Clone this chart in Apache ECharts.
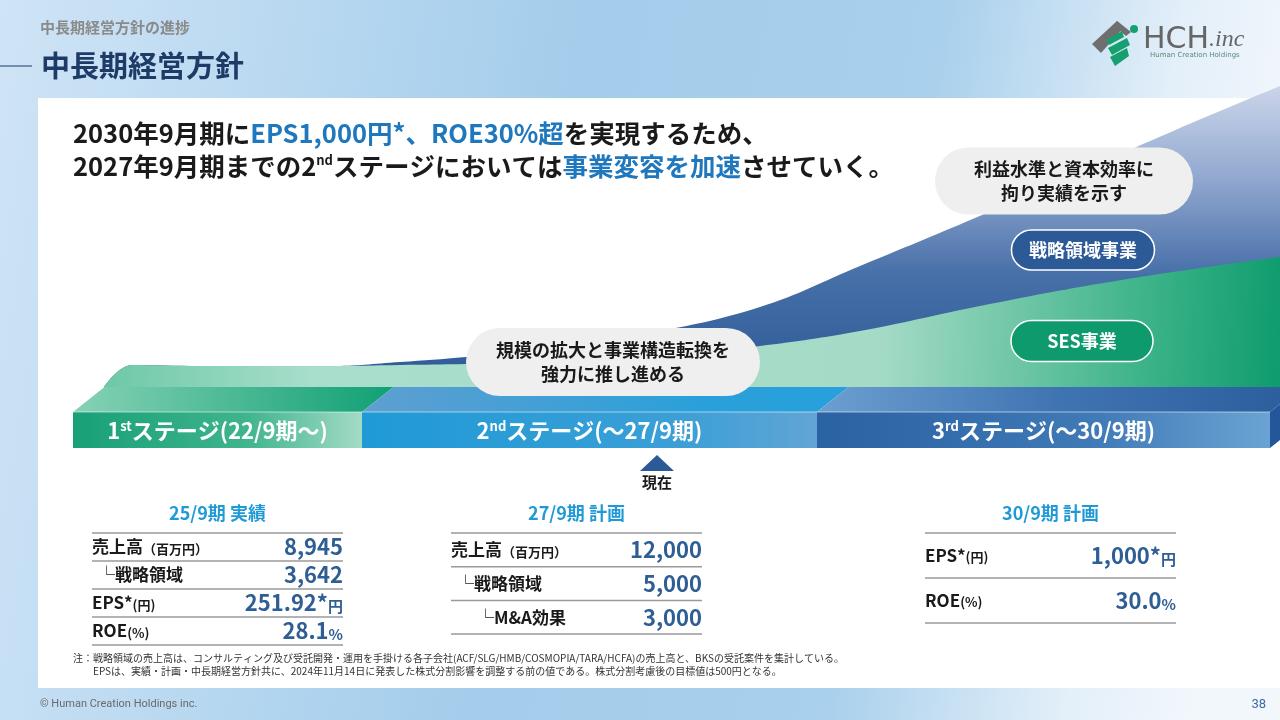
<!DOCTYPE html>
<html lang="ja">
  <head>
    <meta charset="UTF-8" />
    <title>中長期経営方針</title>
    <script src="https://cdn.jsdelivr.net/npm/echarts@6/dist/echarts.min.js"></script>
    <style>
      html, body { margin: 0; padding: 0; background: #fff; }
      #main { width: 1280px; height: 720px; }
    </style>
  </head>
  <body>
    <div id="main"></div>
    <script type="text/javascript">
      var FONT = "'Noto Sans CJK JP', 'Noto Sans', sans-serif";

      // timeline position (x) and growth level of each layer (schematic units)
      var curveX = [10.4, 13.2, 20, 33, 40, 46.6, 55, 65, 76, 86, 97.5, 108, 118, 128];
      var sesLevel = [0, 2.2, 2.1, 2.1, 2.2, 2.3, 2.5, 3.0, 4.1, 5.6, 8.0, 10.0, 11.6, 13.0];
      var strategicLevel = [0, 0, 0, 0, 0.3, 0.7, 1.4, 2.4, 3.9, 6.5, 8.9, 11.5, 14.3, 17.1];

      // stages on the timeline
      var stageStart = [7.3, 36.2, 81.7];
      var stageEnd = [36.2, 81.7, 127.0];
      var stageOrd = ["1", "2", "3"];
      var stageSup = ["st", "nd", "rd"];
      var stageText = ["ステージ(22/9期～)", "ステージ(～27/9期)", "ステージ(～30/9期)"];
      var currentPos = 65.7;

      // tables
      var t1Title = "25/9期 実績";
      var t1Labels = ["売上高", "└戦略領域", "EPS*", "ROE"];
      var t1Notes = ["（百万円）", "", "(円)", "(%)"];
      var t1Values = ["8,945", "3,642", "251.92*", "28.1"];
      var t1Units = ["", "", "円", "%"];

      var t2Title = "27/9期 計画";
      var t2Labels = ["売上高", "└戦略領域", "└M&A効果"];
      var t2Notes = ["（百万円）", "", ""];
      var t2Values = ["12,000", "5,000", "3,000"];
      var t2Units = ["", "", ""];

      var t3Title = "30/9期 計画";
      var t3Labels = ["EPS*", "ROE"];
      var t3Notes = ["(円)", "(%)"];
      var t3Values = ["1,000*", "30.0"];
      var t3Units = ["円", "%"];

      var chartDom = document.getElementById("main");
      var myChart = echarts.init(chartDom);

      function zip(xs, ys) {
        return xs.map(function (x, i) {
          return [x, ys[i]];
        });
      }

      // the strategic layer sits on top of the SES layer
      var totalLevel = sesLevel.map(function (v, i) {
        return +(v + strategicLevel[i]).toFixed(2);
      });

      function lg(x, y, x2, y2, stops) {
        return new echarts.graphic.LinearGradient(
          x, y, x2, y2,
          stops.map(function (c) {
            return { offset: c[0], color: c[1] };
          })
        );
      }

      var stageFront = [
        lg(0, 0, 1, 0, [[0, "#18a077"], [0.6, "#3fb48d"], [1, "#a3dbc6"]]),
        lg(0, 0, 1, 0, [[0, "#1f9ad6"], [0.7, "#3b9fd6"], [1, "#62a5d6"]]),
        lg(0, 0, 1, 0, [[0, "#2b62a2"], [0.6, "#3f79b6"], [1, "#6aa3d3"]]),
      ];
      var stageTop = [
        lg(0, 0, 1, 0, [[0, "#86d2b6"], [1, "#11a074"]]),
        lg(0, 0, 1, 0, [[0, "#5e9fd1"], [0.7, "#2aa0da"], [1, "#27a0db"]]),
        lg(0, 0, 1, 0, [[0, "#6c9fd0"], [0.5, "#3f74b2"], [1, "#2b5d9c"]]),
      ];

      // one table: title, rows with separator lines
      function makeTable(x0, x1, lineTop, rowH, title, labels, notes, values, units, indents) {
        var els = [];
        els.push({
          type: "text", z: 100,
          style: {
            x: (x0 + x1) / 2, y: lineTop - 20, text: title, align: "center",
            verticalAlign: "middle", font: "bold 18px " + FONT, fill: "#1f9ad6",
          },
        });
        for (var i = 0; i <= labels.length; i++) {
          els.push({
            type: "line", z: 100,
            shape: { x1: x0, y1: lineTop + i * rowH, x2: x1, y2: lineTop + i * rowH },
            style: { stroke: "#9a9a9a", lineWidth: 1.5 },
          });
        }
        labels.forEach(function (lab, i) {
          var cy = lineTop + (i + 0.5) * rowH;
          els.push({
            type: "text", z: 100,
            style: {
              x: x0 + indents[i], y: cy, text: "{l|" + lab + "}" + (notes[i] ? "{n|" + notes[i] + "}" : ""),
              verticalAlign: "middle",
              rich: {
                l: { font: "bold 17px " + FONT, fill: "#1a1a1a", verticalAlign: "bottom" },
                n: { font: "bold 13px " + FONT, fill: "#1a1a1a", verticalAlign: "bottom" },
              },
            },
          });
          els.push({
            type: "text", z: 100,
            style: {
              x: x1, y: cy, text: "{v|" + values[i] + "}" + (units[i] ? "{u|" + units[i] + "}" : ""),
              align: "right", verticalAlign: "middle",
              rich: {
                v: { font: "bold 22px " + FONT, fill: "#2e5e94", verticalAlign: "bottom" },
                u: { font: "bold 15px " + FONT, fill: "#2e5e94", verticalAlign: "bottom" },
              },
            },
          });
        });
        return els;
      }

      function pill(cx, cy, w, h, text, fill, stroke, color) {
        return {
          type: "group", z: 100,
          children: [
            {
              type: "rect", z: 100,
              shape: { x: cx - w / 2, y: cy - h / 2, width: w, height: h, r: h / 2 },
              style: { fill: fill, stroke: stroke, lineWidth: stroke ? 1.5 : 0 },
            },
            {
              type: "text", z: 101,
              style: {
                x: cx, y: cy, text: text, align: "center", verticalAlign: "middle",
                font: "bold 18px " + FONT, fill: color, lineHeight: 24,
              },
            },
          ],
        };
      }

      var graphics = [
        // slide background
        {
          type: "rect", z: -10,
          shape: { x: 0, y: 0, width: 1280, height: 720 },
          style: {
            fill: lg(0, 0, 1, 0.3, [[0, "#cfe4f6"], [0.45, "#a3cdeb"], [0.72, "#a9d0ec"], [0.9, "#e3eff9"], [1, "#f2f7fc"]]),
          },
        },
        {
          type: "rect", z: -9,
          shape: { x: 38, y: 98, width: 1242, height: 590 },
          style: { fill: "#ffffff" },
        },
        // header
        {
          type: "text", z: 100,
          style: { x: 40, y: 27, text: "中長期経営方針の進捗", verticalAlign: "middle", font: "bold 15px " + FONT, fill: "#8a8a8a" },
        },
        {
          type: "line", z: 100,
          shape: { x1: 0, y1: 66, x2: 32, y2: 66 },
          style: { stroke: "#1d3b66", lineWidth: 1 },
        },
        {
          type: "text", z: 100,
          style: { x: 41, y: 66, text: "中長期経営方針", verticalAlign: "middle", font: "bold 29px " + FONT, fill: "#1d3b66" },
        },
        // logo
        {
          type: "polygon", z: 100,
          shape: { points: [[1092, 44], [1117, 21], [1124, 27], [1101, 53]] },
          style: { fill: "#6f6f6f" },
        },
        {
          type: "polygon", z: 100,
          shape: { points: [[1117, 21], [1131, 32], [1126, 36], [1114, 26]] },
          style: { fill: "#6f6f6f" },
        },
        {
          type: "polygon", z: 100,
          shape: { points: [[1106, 40], [1122, 31], [1124, 37], [1109, 45]] },
          style: { fill: "#16a06f" },
        },
        {
          type: "polygon", z: 100,
          shape: { points: [[1108, 48], [1127, 38], [1130, 45], [1112, 55]] },
          style: { fill: "#16a06f" },
        },
        {
          type: "polygon", z: 100,
          shape: { points: [[1110, 57], [1127, 48], [1129, 56], [1115, 66]] },
          style: { fill: "#16a06f" },
        },
        {
          type: "circle", z: 100,
          shape: { cx: 1134, cy: 29, r: 4 },
          style: { fill: "#16a06f" },
        },
        {
          type: "text", z: 100,
          style: {
            x: 1143, y: 40, text: "{h|HCH}{i|.inc}", verticalAlign: "middle",
            rich: {
              h: { font: "30px 'DejaVu Sans', sans-serif", fill: "#666666" },
              i: { font: "italic 24px 'Liberation Serif', serif", fill: "#666666" },
            },
          },
        },
        {
          type: "text", z: 100,
          style: { x: 1150, y: 55, text: "Human Creation Holdings", verticalAlign: "middle", font: "7px 'DejaVu Sans', sans-serif", fill: "#5a8a78" },
        },
        // headline
        {
          type: "text", z: 100,
          style: {
            x: 73, y: 133, verticalAlign: "middle",
            text: "2030年9月期に{b|EPS1,000円*、ROE30%超}を実現するため、",
            font: "bold 25.5px " + FONT, fill: "#1a1a1a",
            rich: { b: { font: "bold 25.5px " + FONT, fill: "#1f78be" } },
          },
        },
        {
          type: "text", z: 100,
          style: {
            x: 73, y: 166, verticalAlign: "middle",
            text: "2027年9月期までの2{s|nd}ステージにおいては{b|事業変容を加速}させていく。",
            font: "bold 25.5px " + FONT, fill: "#1a1a1a",
            rich: {
              b: { font: "bold 25.5px " + FONT, fill: "#1f78be" },
              s: { font: "bold 13px " + FONT, fill: "#1a1a1a", verticalAlign: "top" },
            },
          },
        },
        // bubbles and series pills
        pill(1064, 181, 258, 67, "利益水準と資本効率に\n拘り実績を示す", "#efefef", null, "#1a1a1a"),
        pill(613, 362, 294, 68, "規模の拡大と事業構造転換を\n強力に推し進める", "#efefef", null, "#1a1a1a"),
        pill(1083, 250, 143, 40, "戦略領域事業", "#2c5a97", "#ffffff", "#ffffff"),
        pill(1082, 341, 142, 41, "SES事業", "#0f9a6e", "#ffffff", "#ffffff"),
        // footnote and footer
        {
          type: "text", z: 100,
          style: {
            x: 73, y: 658, verticalAlign: "middle", font: "10px " + FONT, fill: "#333333",
            text: "注：戦略領域の売上高は、コンサルティング及び受託開発・運用を手掛ける各子会社(ACF/SLG/HMB/COSMOPIA/TARA/HCFA)の売上高と、BKSの受託案件を集計している。",
          },
        },
        {
          type: "text", z: 100,
          style: {
            x: 93, y: 671, verticalAlign: "middle", font: "10px " + FONT, fill: "#333333",
            text: "EPSは、実績・計画・中長期経営方針共に、2024年11月14日に発表した株式分割影響を調整する前の値である。株式分割考慮後の目標値は500円となる。",
          },
        },
        {
          type: "text", z: 100,
          style: { x: 40, y: 704, verticalAlign: "middle", text: "© Human Creation Holdings inc.", font: "11px 'Roboto', sans-serif", fill: "#6a6a6a" },
        },
        {
          type: "text", z: 100,
          style: { x: 1266, y: 705, align: "right", verticalAlign: "middle", text: "38", font: "13px 'Roboto', sans-serif", fill: "#3a6ea5" },
        },
      ];

      graphics = graphics
        .concat(makeTable(92, 343, 533, 28, t1Title, t1Labels, t1Notes, t1Values, t1Units, [0, 6, 0, 0]))
        .concat(makeTable(451, 702, 533, 33.7, t2Title, t2Labels, t2Notes, t2Values, t2Units, [0, 6, 26]))
        .concat(makeTable(925, 1176, 533, 45, t3Title, t3Labels, t3Notes, t3Values, t3Units, [0, 0]));

      var DEPTH_X = 3.15;
      var FRONT_TOP = -2.5;
      var FRONT_BOTTOM = -6.1;

      function renderStage(params, api) {
        var i = params.dataIndex;
        var x0 = api.value(0);
        var x1 = api.value(1);
        var a = api.coord([x0, FRONT_TOP]);
        var b = api.coord([x1, FRONT_BOTTOM]);
        var backL = api.coord([x0 + DEPTH_X, 0]);
        var backR = api.coord([x1 + DEPTH_X, 0]);
        var frontR = api.coord([x1, FRONT_TOP]);
        var children = [
          {
            type: "polygon",
            shape: { points: [a, frontR, backR, backL] },
            style: { fill: stageTop[i] },
          },
          {
            type: "rect",
            shape: { x: a[0], y: a[1], width: b[0] - a[0], height: b[1] - a[1] },
            style: { fill: stageFront[i] },
          },
          {
            type: "line",
            shape: { x1: a[0], y1: a[1], x2: b[0], y2: a[1] },
            style: { stroke: "rgba(255,255,255,0.55)", lineWidth: 1 },
          },
          {
            type: "text",
            style: {
              x: (a[0] + b[0]) / 2, y: (a[1] + b[1]) / 2 + 1,
              text: "{o|" + stageOrd[i] + "}{s|" + stageSup[i] + "}{t|" + stageText[i] + "}",
              align: "center", verticalAlign: "middle",
              rich: {
                o: { font: "bold 22px " + FONT, fill: "#ffffff", verticalAlign: "bottom" },
                s: { font: "bold 13px " + FONT, fill: "#ffffff", verticalAlign: "top" },
                t: { font: "bold 22px " + FONT, fill: "#ffffff", verticalAlign: "bottom" },
              },
            },
          },
        ];
        if (i === stageEnd.length - 1) {
          var sb = api.coord([x1, FRONT_BOTTOM]);
          var sbb = api.coord([x1 + DEPTH_X, FRONT_BOTTOM + 2.5]);
          children.unshift({
            type: "polygon",
            shape: { points: [frontR, backR, sbb, sb] },
            style: { fill: "#23569a" },
          });
        }
        return { type: "group", children: children };
      }

      var option = {
        animation: false,
        grid: { left: 0, right: 0, top: 0, bottom: 230 },
        xAxis: { type: "value", min: 0, max: 128, show: false },
        yAxis: { type: "value", min: -10.3, max: 38.7, show: false },
        graphic: graphics,
        series: [
          {
            type: "line",
            name: "戦略領域事業",
            z: 3,
            data: zip(curveX, totalLevel),
            smooth: 0.4,
            symbol: "none",
            lineStyle: { width: 0 },
            areaStyle: {
              opacity: 1,
              color: lg(0, 0, 0, 1, [[0, "#cbd5ea"], [0.3, "#93a9d0"], [0.62, "#4870a9"], [1, "#2b5995"]]),
            },
          },
          {
            type: "line",
            name: "SES事業",
            z: 4,
            data: zip(curveX, sesLevel),
            smooth: 0.4,
            symbol: "none",
            lineStyle: { width: 0 },
            areaStyle: {
              opacity: 1,
              color: lg(0, 0.3, 1, 0.7, [[0, "#6cc8a6"], [0.18, "#a8decb"], [0.66, "#a5dbc6"], [0.88, "#3fb48a"], [1, "#0f9c6e"]]),
            },
          },
          {
            type: "custom",
            z: 5,
            renderItem: renderStage,
            clip: false,
            data: stageStart.map(function (s, i) {
              return [s, stageEnd[i]];
            }),
          },
          {
            type: "scatter",
            z: 6,
            symbol: "triangle",
            symbolSize: [34, 16],
            itemStyle: { color: "#2c5a97", opacity: 1 },
            label: {
              show: true, position: "bottom", distance: 4, formatter: "現在",
              color: "#1a1a1a", fontSize: 15, fontWeight: "bold", fontFamily: FONT,
            },
            data: [[currentPos, -7.6]],
          },
        ],
      };

      myChart.setOption(option);
    </script>
  </body>
</html>
